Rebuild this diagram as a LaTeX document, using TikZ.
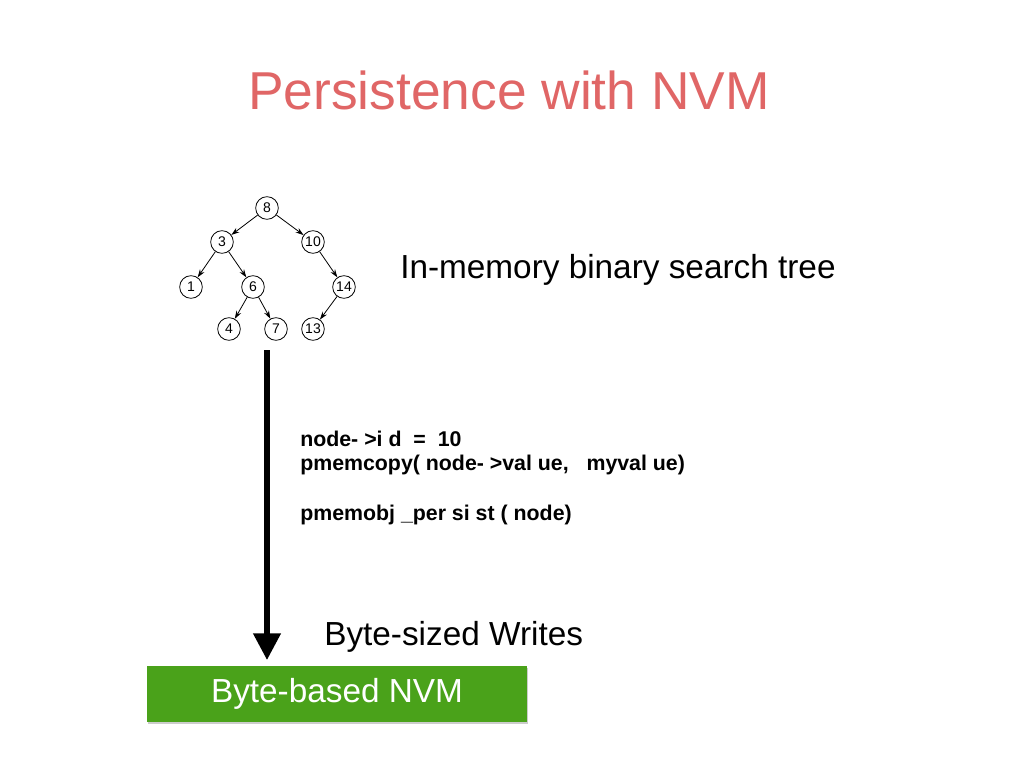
\documentclass[tikz,border=0pt]{standalone}
\usepackage{fontspec}
\setmainfont{Liberation Sans}
\usetikzlibrary{arrows.meta,shadows}
\definecolor{nvmgreen}{HTML}{4AA21A}
\definecolor{titlered}{HTML}{E06666}
\begin{document}
\begin{tikzpicture}[x=0.75pt,y=-0.75pt,
  tn/.style={circle,draw,semithick,minimum size=17pt,inner sep=0pt,font=\fontsize{10.5}{12}\selectfont},
  te/.style={-{Stealth[length=6pt,width=4pt]},semithick},
  code/.style={anchor=west,font=\bfseries\fontsize{16}{18}\selectfont,inner sep=0pt}]
\useasboundingbox (0,0) rectangle (1024,768);
\node[font=\fontsize{40}{46}\selectfont,text=titlered] (title) at (509,90) {Persistence with NVM};
\node[tn] (n8) at (267,208) {8};
\node[tn] (n3) at (222,242) {3};
\node[tn] (n10) at (313,242) {10};
\node[tn] (n1) at (191,287) {1};
\node[tn] (n6) at (253,287) {6};
\node[tn] (n14) at (344,287) {14};
\node[tn] (n4) at (229,329) {4};
\node[tn] (n7) at (276,329) {7};
\node[tn] (n13) at (313,329) {13};
\draw[te] (n8)--(n3); \draw[te] (n8)--(n10);
\draw[te] (n3)--(n1); \draw[te] (n3)--(n6);
\draw[te] (n6)--(n4); \draw[te] (n6)--(n7);
\draw[te] (n10)--(n14); \draw[te] (n14)--(n13);
\node[anchor=west,font=\fontsize{25}{28}\selectfont,inner sep=0pt] (bst) at (400,270) {In-memory binary search tree};
\node[code] (c1) at (300,439) {node- >i d \ = \ 10};
\node[code] (c2) at (300,465) {pmemcopy( node- >val ue, \ \ myval ue)};
\node[code] (c3) at (300,515) {pmemobj \_per si st ( node)};
\node[anchor=west,font=\fontsize{25}{28}\selectfont,inner sep=0pt] (bsw) at (324,637) {Byte-sized Writes};
\node[fill=nvmgreen,minimum width=285pt,minimum height=42pt,inner sep=0pt,drop shadow={shadow xshift=1pt,shadow yshift=-2pt,opacity=0.4},text=white,font=\fontsize{25}{28}\selectfont] (nvm) at (337,693.5) {Byte-based NVM};
\coordinate (top) at (267,350);
\draw[line width=4pt,-{Triangle[length=20pt,width=20pt]}] (top) -- (267,660);
\end{tikzpicture}
\end{document}
